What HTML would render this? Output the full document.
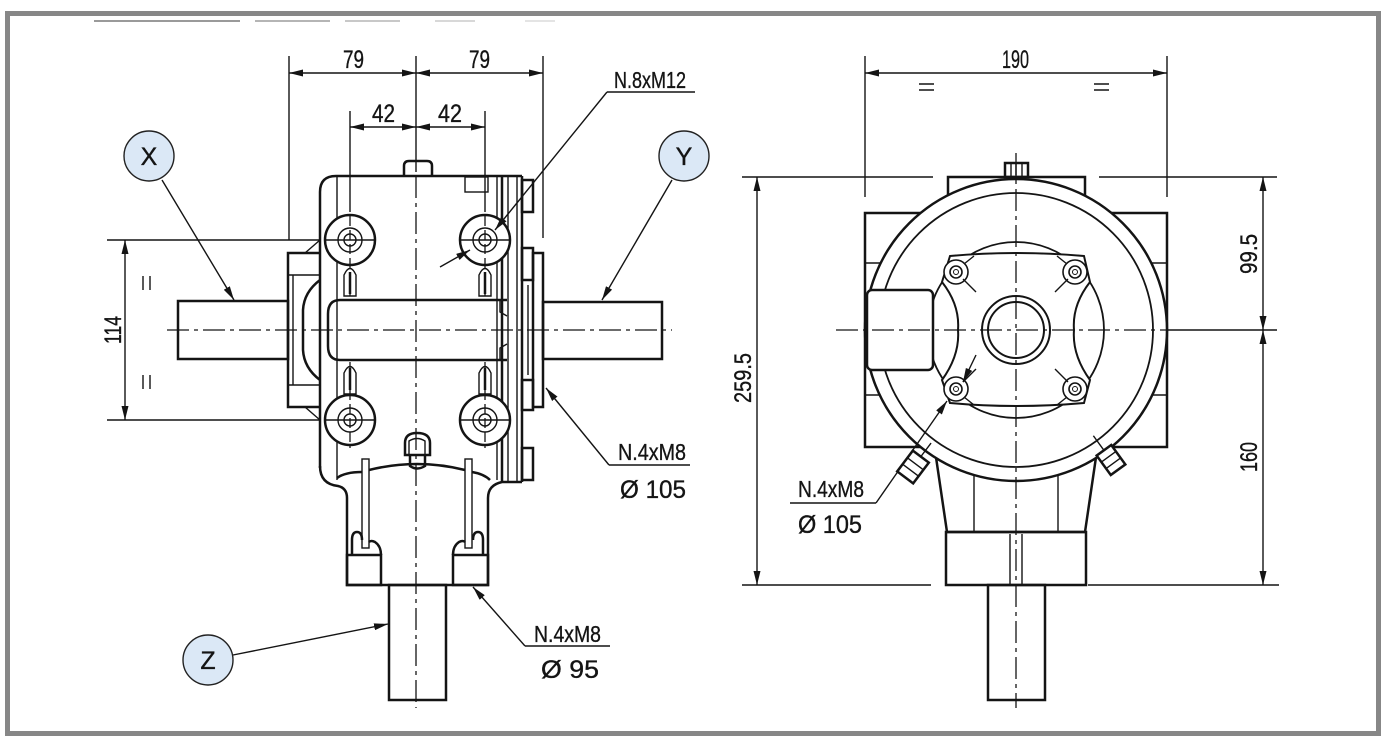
<!DOCTYPE html>
<html><head><meta charset="utf-8">
<style>
html,body{margin:0;padding:0;background:#fff;}
svg{display:block;}
text{font-family:"Liberation Sans",sans-serif;fill:#141414;stroke:#141414;stroke-width:0.35;}
.k{stroke:#141414;stroke-width:2.5;fill:none;}
.kw{stroke:#141414;stroke-width:2.5;fill:#fff;}
.t{stroke:#141414;stroke-width:1.4;fill:none;}
.c{stroke:#141414;stroke-width:1.3;fill:none;stroke-dasharray:22 5 4 5;}
.d{stroke:#141414;stroke-width:1.3;fill:none;}
</style></head><body>
<svg width="1388" height="745" viewBox="0 0 1388 745" xmlns="http://www.w3.org/2000/svg">
<defs>
<marker id="a" viewBox="0 0 14 7" refX="14" refY="3.5" markerWidth="14" markerHeight="7" markerUnits="userSpaceOnUse" orient="auto-start-reverse"><path d="M0,0 L14,3.5 L0,7 z" fill="#141414"/></marker>
</defs>
<rect width="1388" height="745" fill="#fff"/>
<rect x="7.5" y="13.5" width="1371" height="720" fill="none" stroke="#878787" stroke-width="5"/>
<!-- faded top line -->
<g stroke-width="2">
<line x1="94" y1="21" x2="240" y2="21" stroke="#9a9a9a"/>
<line x1="255" y1="21" x2="330" y2="21" stroke="#b5b5b5"/>
<line x1="345" y1="21" x2="400" y2="21" stroke="#c8c8c8"/>
<line x1="435" y1="21" x2="475" y2="21" stroke="#d8d8d8"/>
<line x1="525" y1="21" x2="555" y2="21" stroke="#e4e4e4"/>
</g>

<!-- ================= LEFT VIEW ================= -->
<rect class="k" x="178" y="301" width="110" height="58"/>
<rect class="k" x="543" y="302" width="119" height="57"/>
<rect class="k" x="389" y="585" width="57" height="115"/>
<!-- X flange -->
<path class="k" d="M320 253 L288 253 L288 407 L320 407"/>
<path class="t" d="M305 253 L320 240 M305 407 L320 420 M293 275 L293 385 M288 275 L320 275 M288 385 L320 385"/>
<path class="k" d="M320 280 Q304 292 303 310 L303 350 Q304 368 320 380"/>
<!-- body -->
<path class="k" d="M320 468 L320 192 Q320 176 336 176 L522 176"/>
<path class="k" d="M320 466 Q320 484 338 486 Q347 488 347 498 L347 585 L488 585 L488 498 Q488 485 502 482 L522 482"/>
<line class="t" x1="337" y1="176" x2="337" y2="480"/>
<line class="t" x1="497" y1="176" x2="497" y2="480"/>
<line class="k" x1="502" y1="176" x2="502" y2="482"/>
<line class="t" x1="508" y1="176" x2="508" y2="482"/>
<line class="t" x1="517" y1="176" x2="517" y2="482"/>
<line class="k" x1="522" y1="176" x2="522" y2="482"/>
<rect class="k" x="522" y="180" width="11" height="32"/>
<rect class="k" x="522" y="248" width="11" height="32"/>
<rect class="k" x="533" y="253" width="10" height="154"/>
<rect class="k" x="522" y="380" width="11" height="30"/>
<rect class="k" x="522" y="448" width="11" height="32"/>
<line class="t" x1="528" y1="285" x2="528" y2="375"/>
<!-- breather & filler -->
<path class="k" d="M404 176 L404 166 Q404 161 409 161 L427 161 Q432 161 432 166 L432 176"/>
<rect class="t" x="465" y="177" width="23" height="15"/>
<!-- bore -->
<path class="k" d="M507 300 L340 300 Q328 300 328 314 L328 346 Q328 360 340 360 L507 360"/>
<path class="t" d="M500 300 L500 312 L507 316 M500 360 L500 348 L507 344"/>
<!-- bolt bosses -->
<g>
<circle class="kw" cx="350" cy="240" r="25"/><circle class="t" cx="350" cy="240" r="12"/><circle class="t" cx="350" cy="240" r="6"/><line class="t" x1="325" y1="240" x2="375" y2="240"/>
<circle class="kw" cx="485" cy="240" r="25"/><circle class="t" cx="485" cy="240" r="12"/><circle class="t" cx="485" cy="240" r="6"/><line class="t" x1="460" y1="240" x2="510" y2="240"/>
<circle class="kw" cx="350" cy="420" r="25"/><circle class="t" cx="350" cy="420" r="12"/><circle class="t" cx="350" cy="420" r="6"/><line class="t" x1="325" y1="420" x2="375" y2="420"/>
<circle class="kw" cx="485" cy="420" r="25"/><circle class="t" cx="485" cy="420" r="12"/><circle class="t" cx="485" cy="420" r="6"/><line class="t" x1="460" y1="420" x2="510" y2="420"/>
</g>
<!-- slots -->
<path class="t" d="M344 296 L344 275 Q350 262 356 275 L356 296 Z"/><line class="k" x1="350" y1="272" x2="350" y2="294"/>
<path class="t" d="M479 296 L479 275 Q485 262 491 275 L491 296 Z"/><line class="k" x1="485" y1="272" x2="485" y2="294"/>
<path class="t" d="M344 394 L344 373 Q350 360 356 373 L356 394 Z"/><line class="k" x1="350" y1="368" x2="350" y2="390"/>
<path class="t" d="M479 394 L479 373 Q485 360 491 373 L491 394 Z"/><line class="k" x1="485" y1="368" x2="485" y2="390"/>
<!-- drain plug -->
<path class="k" d="M405 455 L405 443 Q405 433 417 433 Q430 433 430 443 L430 455 Z"/>
<path class="t" d="M409 455 L409 441 Q417 436 425 441 L425 455"/>
<path class="k" d="M410 455 L410 466 Q417 471 425 466 L425 455"/>
<!-- dome, posts, pads -->
<path class="k" d="M337 478 Q345 472 362 472 M369 470 Q417 458 465 470 M472 472 Q484 474 490 480"/>
<rect class="t" x="362" y="459" width="7" height="89"/>
<rect class="t" x="465" y="459" width="7" height="89"/>
<rect class="k" x="347" y="555" width="34" height="30"/>
<rect class="k" x="453" y="555" width="35" height="30"/>
<path class="k" d="M352 555 L352 540 Q352 532 357 532 Q362 532 362 540 M369 542 Q371 540 375 542 Q381 546 381 555"/>
<path class="k" d="M483 555 L483 540 Q483 532 478 532 Q473 532 473 540 M465 542 Q463 540 459 542 Q453 546 453 555"/>
<!-- centerlines -->
<line class="t" x1="416" y1="56" x2="416" y2="172"/>
<line class="c" x1="416" y1="176" x2="416" y2="708"/>
<line class="c" x1="167" y1="330" x2="672" y2="330"/>
<line class="t" x1="350" y1="111" x2="350" y2="212"/>
<line class="t" x1="485" y1="111" x2="485" y2="212"/>
<path class="d" stroke-dasharray="10 4" d="M350 216 L350 300 M485 216 L485 300 M350 362 L350 448 M485 362 L485 448"/>
<!-- dims left view -->
<line class="t" x1="289" y1="56" x2="289" y2="240"/>
<line class="t" x1="543" y1="56" x2="543" y2="238"/>
<line class="t" x1="289" y1="73" x2="416" y2="73" marker-start="url(#a)" marker-end="url(#a)"/>
<line class="t" x1="416" y1="73" x2="543" y2="73" marker-start="url(#a)" marker-end="url(#a)"/>
<line class="t" x1="350" y1="127" x2="416" y2="127" marker-start="url(#a)" marker-end="url(#a)"/>
<line class="t" x1="416" y1="127" x2="485" y2="127" marker-start="url(#a)" marker-end="url(#a)"/>
<text x="343" y="68" font-size="25" textLength="21" lengthAdjust="spacingAndGlyphs">79</text>
<text x="469" y="68" font-size="25" textLength="21" lengthAdjust="spacingAndGlyphs">79</text>
<text x="372" y="122" font-size="25" textLength="23" lengthAdjust="spacingAndGlyphs">42</text>
<text x="438" y="122" font-size="25" textLength="24" lengthAdjust="spacingAndGlyphs">42</text>
<!-- 114 -->
<line class="t" x1="107" y1="240" x2="320" y2="240"/>
<line class="t" x1="107" y1="420" x2="320" y2="420"/>
<line class="t" x1="125" y1="240" x2="125" y2="420" marker-start="url(#a)" marker-end="url(#a)"/>
<text transform="translate(121,330) rotate(-90)" text-anchor="middle" font-size="24" textLength="28" lengthAdjust="spacingAndGlyphs">114</text>
<path class="t" d="M143 276 L143 290 M150 276 L150 290 M143 375 L143 389 M150 375 L150 389"/>
<!-- N.8xM12 -->
<text x="614" y="88" font-size="23" textLength="72" lengthAdjust="spacingAndGlyphs">N.8xM12</text>
<line class="t" x1="607" y1="92" x2="695" y2="92"/>
<line class="t" x1="607" y1="92" x2="495" y2="230" marker-end="url(#a)"/>
<line class="t" x1="440" y1="267" x2="470" y2="250" marker-end="url(#a)"/>
<!-- N.4xM8 105 left -->
<text x="618" y="460" font-size="23" textLength="68" lengthAdjust="spacingAndGlyphs">N.4xM8</text>
<line class="t" x1="609" y1="465" x2="690" y2="465"/>
<line class="t" x1="609" y1="465" x2="546" y2="388" marker-end="url(#a)"/>
<text x="620" y="498" font-size="25" textLength="66" lengthAdjust="spacingAndGlyphs">Ø 105</text>
<!-- N.4xM8 95 -->
<text x="534" y="642" font-size="23" textLength="67" lengthAdjust="spacingAndGlyphs">N.4xM8</text>
<line class="t" x1="525" y1="646" x2="610" y2="646"/>
<line class="t" x1="525" y1="646" x2="473" y2="587" marker-end="url(#a)"/>
<text x="541" y="678" font-size="25" textLength="58" lengthAdjust="spacingAndGlyphs">Ø 95</text>
<!-- X Y Z -->
<line class="t" x1="162" y1="180" x2="234" y2="300" marker-end="url(#a)"/>
<line class="t" x1="672" y1="180" x2="602" y2="300" marker-end="url(#a)"/>
<line class="t" x1="233" y1="655" x2="388" y2="624" marker-end="url(#a)"/>
<circle cx="149" cy="156" r="25" fill="#dbe8f6" stroke="#222" stroke-width="1.4"/>
<text x="149" y="165" font-size="25" text-anchor="middle" stroke-width="0">X</text>
<circle cx="684" cy="156" r="25" fill="#dbe8f6" stroke="#222" stroke-width="1.4"/>
<text x="684" y="165" font-size="25" text-anchor="middle" stroke-width="0">Y</text>
<circle cx="208" cy="660" r="25" fill="#dbe8f6" stroke="#222" stroke-width="1.4"/>
<text x="208" y="669" font-size="25" text-anchor="middle" stroke-width="0">Z</text>

<!-- ================= RIGHT VIEW ================= -->
<rect class="kw" x="865" y="213" width="302" height="234"/>
<path class="t" d="M865 263 L882 263 M865 395 L882 395 M1150 263 L1167 263 M1150 395 L1167 395"/>
<rect class="kw" x="948" y="177" width="137" height="60"/>
<rect class="k" x="1005" y="163" width="23" height="14"/>
<path class="t" d="M1011 163 L1011 177 M1016 163 L1016 177 M1022 163 L1022 177"/>
<path class="kw" d="M932 430 L1100 430 L1085 532 L947 532 Z"/>
<path class="t" d="M974 430 L974 532 M1058 430 L1058 532"/>
<rect class="k" x="946" y="532" width="140" height="53"/>
<path class="t" d="M1010 534 L1010 585 M1022 534 L1022 585"/>
<rect class="k" x="988" y="585" width="57" height="115"/>
<circle class="kw" cx="1016" cy="330" r="151"/>
<circle cx="1016" cy="330" r="137" fill="none" stroke="#141414" stroke-width="1.8"/>
<circle cx="1016" cy="330" r="88" fill="none" stroke="#141414" stroke-width="1.8"/>
<path d="M950 256 Q1016 250 1084 256 L1090 282 Q1072 305 1074 330 Q1072 355 1090 380 L1084 403 Q1016 409 950 403 L942 380 Q960 355 958 330 Q960 305 942 282 Z" fill="#fff" stroke="#141414" stroke-width="2"/>
<g fill="#fff" stroke="#141414">
<circle cx="956" cy="272" r="12" stroke-width="1.6"/><circle cx="956" cy="272" r="6" stroke-width="1.6"/><circle cx="956" cy="272" r="2.5" stroke-width="1"/>
<circle cx="1075" cy="272" r="12" stroke-width="1.6"/><circle cx="1075" cy="272" r="6" stroke-width="1.6"/><circle cx="1075" cy="272" r="2.5" stroke-width="1"/>
<circle cx="956" cy="389" r="12" stroke-width="1.6"/><circle cx="956" cy="389" r="6" stroke-width="1.6"/><circle cx="956" cy="389" r="2.5" stroke-width="1"/>
<circle cx="1075" cy="389" r="12" stroke-width="1.6"/><circle cx="1075" cy="389" r="6" stroke-width="1.6"/><circle cx="1075" cy="389" r="2.5" stroke-width="1"/>
</g>
<path class="t" d="M963 279 L976 292 M964 264 L974 256 M1068 279 L1055 292 M1067 264 L1057 256 M963 382 L976 369 M964 397 L974 405 M1068 382 L1055 369 M1067 397 L1057 405"/>
<circle cx="1016" cy="330" r="34" fill="#fff" stroke="#141414" stroke-width="2"/>
<circle cx="1016" cy="330" r="28" fill="none" stroke="#141414" stroke-width="2"/>
<rect class="kw" x="867" y="290" width="66" height="80" rx="5"/>
<!-- nuts -->
<g transform="translate(913,467) rotate(37)"><rect class="kw" x="-10" y="-13" width="20" height="26"/><path class="t" d="M-10 -4 L10 -4 M-10 4 L10 4 M0 -13 L0 -30"/></g>
<g transform="translate(1111,460) rotate(-36)"><rect class="kw" x="-9" y="-12" width="18" height="24"/><path class="t" d="M-9 -4 L9 -4 M-9 4 L9 4 M0 -12 L0 -30"/></g>
<!-- centerlines -->
<line class="c" x1="1016" y1="153" x2="1016" y2="708"/>
<line class="c" x1="836" y1="330" x2="1168" y2="330"/>
<line class="t" x1="1168" y1="330" x2="1277" y2="330"/>
<!-- dims right -->
<line class="t" x1="865" y1="56" x2="865" y2="197"/>
<line class="t" x1="1167" y1="56" x2="1167" y2="197"/>
<line class="t" x1="865" y1="73" x2="1167" y2="73" marker-start="url(#a)" marker-end="url(#a)"/>
<text x="1002" y="68" font-size="25" textLength="27" lengthAdjust="spacingAndGlyphs">190</text>
<path class="t" d="M919 84 L934 84 M919 90 L934 90 M1094 84 L1109 84 M1094 90 L1109 90"/>
<line class="t" x1="742" y1="177" x2="933" y2="177"/>
<line class="t" x1="1099" y1="177" x2="1277" y2="177"/>
<line class="t" x1="742" y1="585" x2="931" y2="585"/>
<line class="t" x1="1088" y1="585" x2="1279" y2="585"/>
<line class="t" x1="757" y1="177" x2="757" y2="585" marker-start="url(#a)" marker-end="url(#a)"/>
<text transform="translate(751,378) rotate(-90)" text-anchor="middle" font-size="24" textLength="50" lengthAdjust="spacingAndGlyphs">259.5</text>
<line class="t" x1="1263" y1="177" x2="1263" y2="330" marker-start="url(#a)" marker-end="url(#a)"/>
<line class="t" x1="1263" y1="330" x2="1263" y2="585" marker-start="url(#a)" marker-end="url(#a)"/>
<text transform="translate(1257,254) rotate(-90)" text-anchor="middle" font-size="24" textLength="40" lengthAdjust="spacingAndGlyphs">99.5</text>
<text transform="translate(1257,457) rotate(-90)" text-anchor="middle" font-size="24" textLength="30" lengthAdjust="spacingAndGlyphs">160</text>
<!-- N.4xM8 105 right -->
<text x="798" y="497" font-size="23" textLength="66" lengthAdjust="spacingAndGlyphs">N.4xM8</text>
<line class="t" x1="790" y1="503" x2="876" y2="503"/>
<line class="t" x1="876" y1="503" x2="947" y2="401" marker-end="url(#a)"/>
<line class="t" x1="976" y1="355" x2="963" y2="382" marker-end="url(#a)"/>
<text x="798" y="533" font-size="25" textLength="64" lengthAdjust="spacingAndGlyphs">Ø 105</text>
</svg>
</body></html>
